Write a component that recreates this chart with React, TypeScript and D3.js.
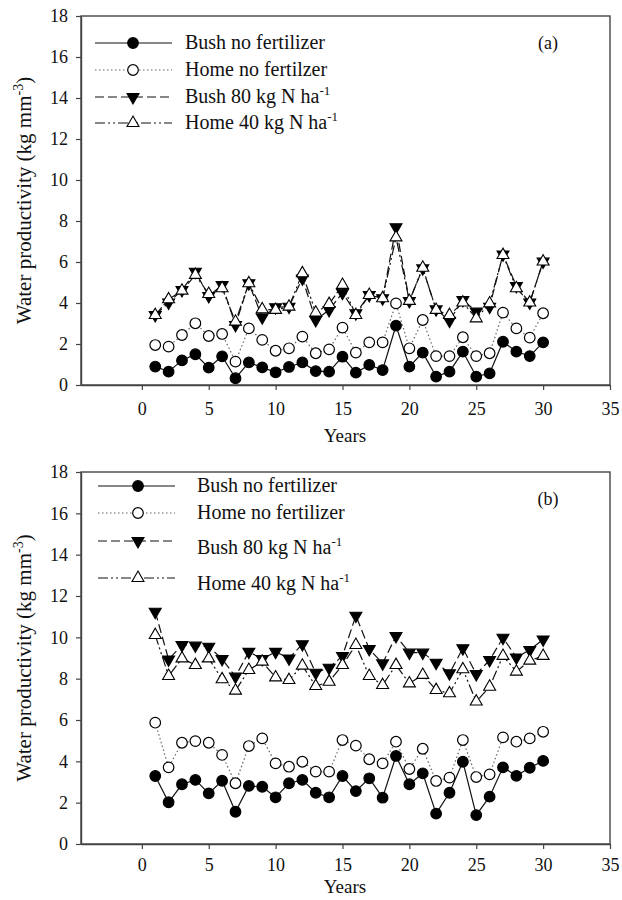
import React, { useEffect, useRef } from 'react';
import * as d3 from 'd3';

// x categories (years) and tick values
const years = [1, 2, 3, 4, 5, 6, 7, 8, 9, 10, 11, 12, 13, 14, 15, 16, 17, 18, 19, 20, 21, 22, 23, 24, 25, 26, 27, 28, 29, 30];
const xTicks = [0, 5, 10, 15, 20, 25, 30, 35];
const yTicks = [0, 2, 4, 6, 8, 10, 12, 14, 16, 18];

// panel (a)
const bushNoFertA = [0.9, 0.65, 1.2, 1.5, 0.85, 1.4, 0.33, 1.1, 0.86, 0.62, 0.88, 1.1, 0.68, 0.65, 1.38, 0.6, 0.98, 0.73, 2.9, 0.9, 1.58, 0.41, 0.65, 1.63, 0.41, 0.57, 2.11, 1.63, 1.41, 2.08];
const homeNoFertA = [1.95, 1.87, 2.44, 3.01, 2.39, 2.49, 1.14, 2.76, 2.2, 1.67, 1.79, 2.36, 1.55, 1.74, 2.8, 1.58, 2.08, 2.08, 3.98, 1.79, 3.17, 1.41, 1.41, 2.33, 1.41, 1.55, 3.53, 2.76, 2.31, 3.5];
const bush80A = [3.41, 4.02, 4.63, 5.53, 4.34, 4.88, 2.93, 4.96, 3.3, 3.79, 3.82, 5.2, 3.17, 3.66, 4.5, 3.5, 4.39, 4.23, 7.7, 4.1, 5.69, 3.69, 3.14, 4.15, 3.58, 3.82, 6.37, 4.83, 4.02, 6.02];
const home40A = [3.41, 4.18, 4.6, 5.37, 4.44, 4.72, 3.09, 4.96, 3.69, 3.66, 3.82, 5.45, 3.53, 3.95, 4.88, 3.41, 4.39, 4.23, 7.2, 4.1, 5.72, 3.66, 3.41, 4.02, 3.25, 3.98, 6.34, 4.72, 4.02, 6.02];

// panel (b)
const bushNoFertB = [3.29, 2.02, 2.89, 3.1, 2.45, 3.06, 1.56, 2.81, 2.77, 2.26, 2.94, 3.1, 2.48, 2.26, 3.29, 2.56, 3.18, 2.24, 4.26, 2.89, 3.42, 1.47, 2.48, 3.98, 1.4, 2.29, 3.71, 3.3, 3.69, 4.02];
const homeNoFertB = [5.87, 3.71, 4.9, 4.98, 4.9, 4.31, 2.94, 4.74, 5.11, 3.9, 3.74, 3.98, 3.5, 3.5, 5.03, 4.76, 4.1, 3.9, 4.95, 3.63, 4.61, 3.05, 3.21, 5.03, 3.24, 3.37, 5.16, 4.95, 5.11, 5.43];
const bush80B = [11.24, 8.93, 9.63, 9.6, 9.55, 8.95, 8.1, 9.3, 8.95, 9.3, 8.98, 9.67, 8.29, 8.53, 9.1, 11.05, 9.43, 8.74, 10.06, 9.26, 9.26, 8.77, 8.26, 9.47, 8.22, 8.9, 9.98, 9.03, 9.39, 9.9];
const home40B = [10.11, 8.13, 8.98, 8.66, 8.98, 7.97, 7.42, 8.42, 8.82, 8.06, 7.93, 8.63, 7.64, 7.85, 8.66, 9.63, 8.13, 7.69, 8.66, 7.77, 8.18, 7.45, 7.29, 8.45, 6.89, 7.61, 9.1, 8.34, 8.87, 9.1];

const namesA = ['Bush no fertilizer', 'Home no fertilzer', 'Bush 80 kg N ha', 'Home 40 kg N ha'];
const namesB = ['Bush no fertilizer', 'Home no fertilizer', 'Bush 80 kg N ha', 'Home 40 kg N ha'];
const supers = ['', '', '-1', '-1'];

const FONT = '"Liberation Serif", "Times New Roman", serif';

type Marker = 'filledCircle' | 'openCircle' | 'filledDown' | 'openUp';
interface Style { marker: Marker; dash: string | null; stroke: string }

const styles: Style[] = [
  { marker: 'filledCircle', dash: null, stroke: '#111' },
  { marker: 'openCircle', dash: '1.5,2.5', stroke: '#666' },
  { marker: 'filledDown', dash: '9,4', stroke: '#111' },
  { marker: 'openUp', dash: '10,3,2,3,2,3', stroke: '#111' },
];

interface PanelOpts {
  top: number;
  bottom: number;
  series: number[][];
  names: string[];
  tag: string;
  titleY: number;
  tickPad: number;
  legendLineY: number[];
  legendTextY: number[];
  legendTextX: number;
  legendMarkerX: number;
  legendLineX: [number, number];
}

const drawMarker = (g: d3.Selection<SVGGElement, unknown, null, undefined>, m: Marker, x: number, y: number) => {
  if (m === 'filledCircle' || m === 'openCircle') {
    g.append('circle')
      .attr('cx', x).attr('cy', y).attr('r', 5.3)
      .attr('fill', m === 'filledCircle' ? '#000' : '#fff')
      .attr('stroke', '#000').attr('stroke-width', 1.2);
  } else {
    const path = d3.symbol().type(d3.symbolTriangle).size(62)();
    g.append('path')
      .attr('d', path)
      .attr('transform', `translate(${x},${y}) rotate(${m === 'filledDown' ? 180 : 0})`)
      .attr('fill', m === 'filledDown' ? '#000' : '#fff')
      .attr('stroke', '#000').attr('stroke-width', 1.1);
  }
};

const App: React.FC = () => {
  const svgRef = useRef<SVGSVGElement>(null);

  useEffect(() => {
    if (!svgRef.current) return;
    const svg = d3.select(svgRef.current);
    svg.selectAll('*').remove();

    const xScale = d3.scaleLinear().domain([-4.55, 35]).range([81, 610]);

    const panels: PanelOpts[] = [
      {
        top: 16, bottom: 385,
        series: [bushNoFertA, homeNoFertA, bush80A, home40A],
        names: namesA, tag: '(a)', titleY: 442, tickPad: 12,
        legendLineY: [43, 70, 97, 123],
        legendTextY: [43, 70, 97, 123],
        legendTextX: 185, legendMarkerX: 133, legendLineX: [95, 172],
      },
      {
        top: 472, bottom: 844,
        series: [bushNoFertB, homeNoFertB, bush80B, home40B],
        names: namesB, tag: '(b)', titleY: 893, tickPad: 9,
        legendLineY: [486, 513, 541, 578],
        legendTextY: [486, 513, 548, 584],
        legendTextX: 197, legendMarkerX: 138, legendLineX: [98, 175],
      },
    ];

    panels.forEach((p) => {
      const yScale = d3.scaleLinear().domain([0, 18]).range([p.bottom, p.top]);
      const g = svg.append('g');

      // frame (top and right)
      g.append('rect')
        .attr('x', xScale.range()[0]).attr('y', p.top)
        .attr('width', xScale.range()[1] - xScale.range()[0])
        .attr('height', p.bottom - p.top)
        .attr('fill', 'none').attr('stroke', '#444').attr('stroke-width', 1.4);

      // axes
      const yAxis = g.append('g')
        .attr('transform', `translate(${xScale.range()[0]},0)`)
        .call(d3.axisLeft(yScale).tickValues(yTicks).tickSize(5).tickSizeOuter(0).tickPadding(8));
      const xAxis = g.append('g')
        .attr('transform', `translate(0,${p.bottom})`)
        .call(d3.axisBottom(xScale).tickValues(xTicks).tickSize(5).tickSizeOuter(0).tickPadding(p.tickPad));
      [yAxis, xAxis].forEach((a) => {
        a.select('.domain').attr('stroke', '#444').attr('stroke-width', 1.4);
        a.selectAll('.tick line').attr('stroke', '#444').attr('stroke-width', 1.2);
        a.selectAll('text')
          .attr('font-family', FONT).attr('font-size', 18).attr('fill', '#111');
      });

      // axis titles
      g.append('text')
        .attr('x', 345).attr('y', p.titleY)
        .attr('text-anchor', 'middle')
        .attr('font-family', FONT).attr('font-size', 19).attr('fill', '#111')
        .text('Years');

      const yl = g.append('text')
        .attr('transform', `translate(31,${(p.top + p.bottom) / 2}) rotate(-90)`)
        .attr('text-anchor', 'middle')
        .attr('font-family', FONT).attr('font-size', 21).attr('fill', '#111');
      yl.append('tspan').text('Water productivity (kg mm');
      yl.append('tspan').attr('dy', -8).attr('font-size', 14).text('-3');
      yl.append('tspan').attr('dy', 8).text(')');

      // series
      p.series.forEach((vals, i) => {
        const st = styles[i];
        const line = d3.line<number>()
          .x((_, j) => xScale(years[j]))
          .y((d) => yScale(d));
        g.append('path')
          .datum(vals)
          .attr('d', line)
          .attr('fill', 'none')
          .attr('stroke', st.stroke)
          .attr('stroke-width', 1.2)
          .attr('stroke-dasharray', st.dash);
      });
      p.series.forEach((vals, i) => {
        const mg = g.append('g');
        vals.forEach((v, j) => drawMarker(mg, styles[i].marker, xScale(years[j]), yScale(v)));
      });

      // legend
      p.names.forEach((name, i) => {
        const st = styles[i];
        const lg = g.append('g');
        lg.append('line')
          .attr('x1', p.legendLineX[0]).attr('x2', p.legendLineX[1])
          .attr('y1', p.legendLineY[i]).attr('y2', p.legendLineY[i])
          .attr('stroke', st.stroke).attr('stroke-width', 1.2)
          .attr('stroke-dasharray', st.dash);
        drawMarker(lg, st.marker, p.legendMarkerX, p.legendLineY[i]);
        const t = lg.append('text')
          .attr('x', p.legendTextX).attr('y', p.legendTextY[i] + 6)
          .attr('font-family', FONT).attr('font-size', 20).attr('fill', '#111');
        t.append('tspan').text(name);
        if (supers[i]) {
          t.append('tspan').attr('dy', -8).attr('font-size', 13).text(supers[i]);
        }
      });

      g.append('text')
        .attr('x', 548).attr('y', p.top + 33)
        .attr('text-anchor', 'middle')
        .attr('font-family', FONT).attr('font-size', 18).attr('fill', '#111')
        .text(p.tag);
    });
  }, []);

  return (
    <svg
      ref={svgRef}
      width={622}
      height={900}
      viewBox="0 0 622 900"
      style={{ position: 'absolute', left: 0, top: 0, background: '#fff' }}
    />
  );
};

export default App;
